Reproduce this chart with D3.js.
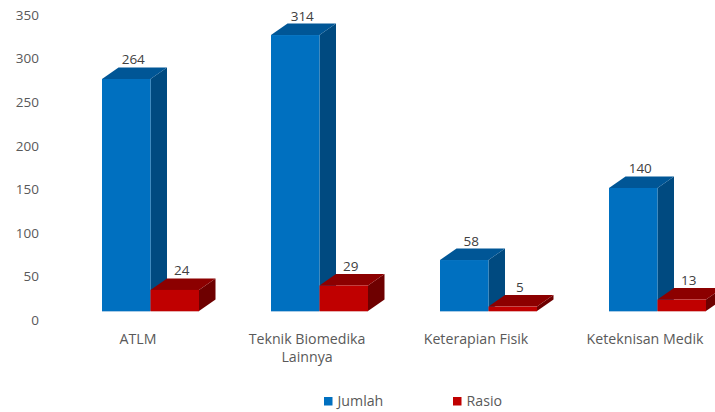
<!DOCTYPE html>
<html>
<head>
<meta charset="utf-8">
<script src="https://cdn.jsdelivr.net/npm/d3@7"></script>
<style>
body { margin: 0; background: #fff; overflow: hidden; }
svg { display: block; }
text { font-family: "Open Sans", sans-serif; }
</style>
</head>
<body>
<svg id="chart" width="715" height="412"></svg>
<script>
const categories = ["ATLM", "Teknik Biomedika Lainnya", "Keterapian Fisik", "Keteknisan Medik"];
const seriesNames = ["Jumlah", "Rasio"];
const jumlah = [264, 314, 58, 140];
const rasio = [24, 29, 5, 13];
const yTicks = [0, 50, 100, 150, 200, 250, 300, 350];

const colors = {
    Jumlah: { front: "#0070c0", top: "#005696", side: "#004a80", edge: "#a9cbe6" },
    Rasio: { front: "#c00000", top: "#8c0000", side: "#6e0000", edge: "#e6b0b0" }
};

// fake 3d offset of the columns
const depthX = 16.5;
const depthY = 11.5;

let svg = d3.select("#chart");

let x = d3.scaleBand().domain(categories).range([65.5, 741.5]);
let inner = d3.scaleBand().domain(seriesNames).range([36.5, 133.5]);
let y = d3.scaleLinear().domain([0, 350]).range([311, 3.4]);
// the axis labels sit on the front of the floor, a bit lower than the columns
let yAxisScale = d3.scaleLinear().domain([0, 350]).range([320, 15]);

let data = [];
categories.forEach((c, i) => {
    data.push({ category: c, series: "Jumlah", value: jumlah[i] });
    data.push({ category: c, series: "Rasio", value: rasio[i] });
});

function poly(pts) {
    return d3.line()(pts) + "Z";
}

let bars = svg.append("g").selectAll("g")
    .data(data)
    .join("g");

bars.each(function(d) {
    let g = d3.select(this);
    let x0 = x(d.category) + inner(d.series);
    let x1 = x0 + inner.bandwidth();
    let y0 = y(0);
    let y1 = y(d.value);
    let c = colors[d.series];
    g.append("path")
        .attr("d", poly([[x1, y0], [x1 + depthX, y0 - depthY], [x1 + depthX, y1 - depthY], [x1, y1]]))
        .attr("fill", c.side);
    g.append("path")
        .attr("d", poly([[x0, y1], [x0 + depthX, y1 - depthY], [x1 + depthX, y1 - depthY], [x1, y1]]))
        .attr("fill", c.top);
    g.append("rect")
        .attr("x", x0)
        .attr("y", y1)
        .attr("width", x1 - x0)
        .attr("height", y0 - y1)
        .attr("fill", c.front);
    g.append("line")
        .attr("x1", x0).attr("x2", x1)
        .attr("y1", y0 + 0.5).attr("y2", y0 + 0.5)
        .attr("stroke", c.edge);
});

// value labels
svg.append("g").selectAll("text")
    .data(data)
    .join("text")
    .attr("x", d => x(d.category) + inner(d.series) + inner.bandwidth() / 2 + 7)
    .attr("y", d => y(d.value) - depthY - 3)
    .attr("text-anchor", "middle")
    .attr("font-size", 13.5)
    .attr("fill", "#404040")
    .text(d => d.value);

// y axis
let yAxis = svg.append("g")
    .attr("transform", "translate(39,0)")
    .call(d3.axisLeft(yAxisScale).tickValues(yTicks).tickSize(0).tickPadding(0));
yAxis.select(".domain").remove();
yAxis.selectAll("text")
    .attr("font-family", "\"Open Sans\", sans-serif")
    .attr("font-size", 13.5)
    .attr("fill", "#595959");

// x axis, labels are off-centre from the columns
let xAxis = svg.append("g")
    .attr("transform", "translate(0,334)")
    .call(d3.axisBottom(x).tickSize(0).tickPadding(0).tickFormat(""));
xAxis.select(".domain").remove();
xAxis.selectAll(".tick").each(function(d) {
    let t = d3.select(this).select("text")
        .attr("x", -12)
        .attr("y", 0)
        .attr("dy", null)
        .attr("font-family", "\"Open Sans\", sans-serif")
        .attr("font-size", 14.2)
        .attr("fill", "#595959");
    let lines = d === "Teknik Biomedika Lainnya" ? ["Teknik Biomedika", "Lainnya"] : [d];
    lines.forEach((l, i) => {
        t.append("tspan")
            .attr("x", -12)
            .attr("y", 10 + i * 18)
            .text(l);
    });
});

// legend
let legendX = d3.scalePoint().domain(seriesNames).range([324, 453]);
let legend = svg.append("g").selectAll("g")
    .data(seriesNames)
    .join("g")
    .attr("transform", d => "translate(" + legendX(d) + ",397)");
legend.append("rect")
    .attr("width", 8.5)
    .attr("height", 8.5)
    .attr("fill", d => colors[d].front);
legend.append("text")
    .attr("x", 13.5)
    .attr("y", 9)
    .attr("font-size", 14.2)
    .attr("fill", "#595959")
    .text(d => d);
</script>
</body>
</html>
